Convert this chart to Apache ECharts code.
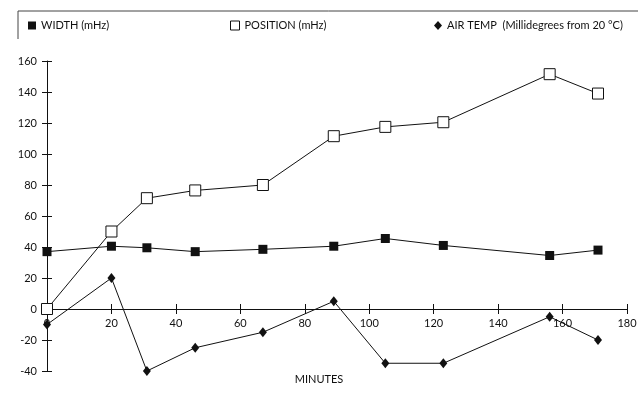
<!DOCTYPE html>
<html>
<head>
<meta charset="utf-8">
<script src="https://cdn.jsdelivr.net/npm/echarts@6/dist/echarts.min.js"></script>
<style>
html,body{margin:0;padding:0;background:#fff;}
#chart{width:638px;height:405px;}
</style>
</head>
<body>
<div id="chart"></div>
<script>
// Data
var minutes  = [0, 20, 31, 46, 67, 89, 105, 123, 156, 171];
var widthMHz = [37, 40.5, 39.5, 37, 38.5, 40.5, 45.5, 41, 34.5, 38];
var position = [0, 50, 71.5, 76.5, 80, 111.5, 117.5, 120.5, 151.5, 139];
var airTemp  = [-10, 20, -40, -25, -15, 5, -35, -35, -5, -20];
var seriesNames = ['WIDTH (mHz)', 'POSITION (mHz)', 'AIR TEMP  (Millidegrees from 20 \u00B0C)'];
var xTicks = {min: 0, max: 180, interval: 20};
var yTicks = {min: -40, max: 160, interval: 20};
var xName = 'MINUTES';

function pairs(xs, ys) { return xs.map(function (x, i) { return [x, ys[i]]; }); }

var FONT = 'Lato';
var INK = '#111';

// plot area (main grid) and the sub-grid whose bottom edge sits on y = 0
var G = {left: 47, right: 11, top: 61, bottom: 34};
var W = 638, H = 405;
var plotH = H - G.top - G.bottom;
var zeroFrac = (yTicks.max - 0) / (yTicks.max - yTicks.min);
var zeroBottom = H - (G.top + plotH * zeroFrac);

var chart = echarts.init(document.getElementById('chart'), null, {renderer: 'canvas'});

var LINE_ON = {show: true, onZero: false, lineStyle: {color: INK, width: 1}};
var LINE_OFF = {show: false, onZero: false};

function xAx(extra) {
  return Object.assign({
    type: 'value', min: xTicks.min, max: xTicks.max, interval: xTicks.interval,
    splitLine: {show: false},
    axisLine: LINE_ON,
    axisTick: {show: true, inside: false, length: 5, lineStyle: {color: INK}},
    axisLabel: {show: false}
  }, extra);
}
function yAx(extra) {
  return Object.assign({
    type: 'value', min: yTicks.min, max: yTicks.max, interval: yTicks.interval,
    splitLine: {show: false},
    axisLine: LINE_ON,
    axisTick: {show: true, inside: false, length: 5, lineStyle: {color: INK}},
    axisLabel: {show: false}
  }, extra);
}
var mainGrid = {left: G.left, right: G.right, top: G.top, bottom: G.bottom, containLabel: false, outerBoundsMode: 'none'};
var zeroGrid = {left: G.left, right: G.right, top: G.top, bottom: zeroBottom, containLabel: false, outerBoundsMode: 'none'};

chart.setOption({
  animation: false,
  backgroundColor: '#fff',
  textStyle: {fontFamily: FONT},
  grid: [mainGrid, zeroGrid, Object.assign({}, mainGrid), Object.assign({}, zeroGrid)],
  graphic: [{
    type: 'polyline',
    silent: true,
    shape: {points: [[18, 39], [18, 11], [640, 11]]},
    style: {stroke: '#444', fill: null, lineWidth: 1}
  }, {
    type: 'text',
    silent: true,
    left: 'center',
    top: 374,
    style: {text: xName, fontFamily: FONT, fontSize: 11, fill: INK}
  }],
  legend: [
    {left: 28, top: 20, padding: 0, itemWidth: 8, itemHeight: 8, icon: 'rect',
     data: [{name: seriesNames[0], itemStyle: {color: INK}}],
     textStyle: {fontFamily: FONT, fontSize: 11, color: INK}},
    {left: 230, top: 20, padding: 0, itemWidth: 9, itemHeight: 9, icon: 'rect',
     data: [{name: seriesNames[1], itemStyle: {color: '#fff', borderColor: INK, borderWidth: 1}}],
     textStyle: {fontFamily: FONT, fontSize: 11, color: INK}},
    {left: 434, top: 20, padding: 0, itemWidth: 8, itemHeight: 9, icon: 'diamond',
     data: [{name: seriesNames[2], itemStyle: {color: INK}}],
     textStyle: {fontFamily: FONT, fontSize: 11, color: INK}}
  ],
  xAxis: [
    xAx({gridIndex: 0, show: false, axisLine: LINE_OFF}),
    xAx({gridIndex: 1, position: 'bottom',
         axisLabel: {show: true, margin: 9, fontFamily: FONT, fontSize: 11, color: INK}}),
    xAx({gridIndex: 2, show: false, axisLine: LINE_OFF}),
    xAx({gridIndex: 3, position: 'bottom', axisLine: LINE_OFF,
         axisTick: {show: true, inside: true, length: 5, lineStyle: {color: INK}}})
  ],
  yAxis: [
    yAx({gridIndex: 0, position: 'left',
         axisLabel: {show: true, margin: 10, fontFamily: FONT, fontSize: 11, color: INK}}),
    yAx({gridIndex: 1, show: false, axisLine: LINE_OFF}),
    yAx({gridIndex: 2, position: 'left', axisLine: LINE_OFF,
         axisTick: {show: true, inside: true, length: 5, lineStyle: {color: INK}}}),
    yAx({gridIndex: 3, show: false, axisLine: LINE_OFF})
  ],
  series: [
    {
      name: seriesNames[2], type: 'line', xAxisIndex: 0, yAxisIndex: 0,
      data: pairs(minutes, airTemp),
      symbol: 'diamond', symbolSize: [8, 10],
      itemStyle: {color: INK},
      lineStyle: {color: INK, width: 1},
      z: 3
    },
    {
      name: seriesNames[0], type: 'line', xAxisIndex: 0, yAxisIndex: 0,
      data: pairs(minutes, widthMHz),
      symbol: 'rect', symbolSize: 9,
      itemStyle: {color: INK},
      lineStyle: {color: INK, width: 1},
      z: 4
    },
    {
      name: seriesNames[1], type: 'line', xAxisIndex: 0, yAxisIndex: 0,
      data: pairs(minutes, position),
      symbol: 'rect', symbolSize: 11,
      itemStyle: {color: '#fff', borderColor: INK, borderWidth: 1},
      lineStyle: {color: INK, width: 1},
      z: 5
    }
  ]
});
</script>
</body>
</html>
